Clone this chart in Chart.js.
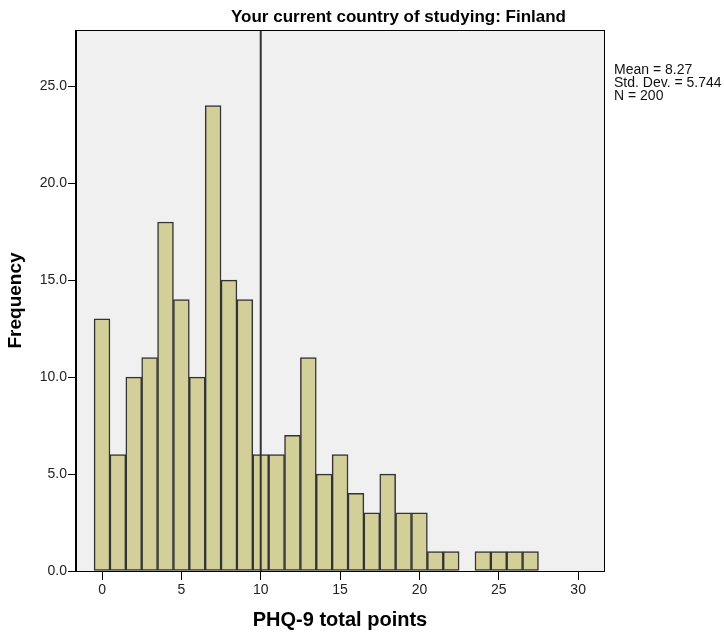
<!DOCTYPE html>
<html>
<head>
<meta charset="utf-8">
<script src="https://cdn.jsdelivr.net/npm/chart.js@4/dist/chart.umd.min.js"></script>
<style>
  html, body { margin: 0; padding: 0; background: #fff; }
  #wrap { width: 724px; height: 635px; }
</style>
</head>
<body>
<div id="wrap"><canvas id="c" width="724" height="635"></canvas></div>
<script>
// ---- data ----
const bins = [0,1,2,3,4,5,6,7,8,9,10,11,12,13,14,15,16,17,18,19,20,21,22,23,24,25,26,27];
const counts = [13,6,10,11,18,14,10,24,15,14,6,6,7,11,5,6,4,3,5,3,3,1,1,0,1,1,1,1];
const xTickValues = [0,5,10,15,20,25,30];
const yTickValues = [0,5,10,15,20,25];
const referenceLineX = [10, 10];
const referenceLineY = [0, 27.9];
const chartTitle = 'Your current country of studying: Finland';
const statsLines = ['Mean = 8.27', 'Std. Dev. = 5.744', 'N = 200'];
const xTitle = 'PHQ-9 total points';
const yTitle = 'Frequency';

const FONT = "'Liberation Sans', Arial, sans-serif";

const frame = {
  id: 'frame',
  beforeDraw(chart) {
    const {ctx, chartArea: a} = chart;
    ctx.save();
    ctx.fillStyle = '#fff';
    ctx.fillRect(0, 0, chart.width, chart.height);
    ctx.fillStyle = '#f0f0f0';
    ctx.fillRect(a.left, a.top, a.right - a.left, a.bottom - a.top);
    ctx.restore();
  },
  afterDraw(chart) {
    const {ctx, chartArea: a} = chart;
    ctx.save();
    ctx.strokeStyle = '#000';
    ctx.lineWidth = 1;
    ctx.strokeRect(a.left - 0.5, a.top + 0.5, a.right - a.left + 1, a.bottom - a.top);
    ctx.fillStyle = '#000';
    ctx.font = 'bold 17px ' + FONT;
    ctx.textAlign = 'center';
    ctx.textBaseline = 'alphabetic';
    ctx.fillText(chartTitle, 398.5, 22);
    ctx.font = '14px ' + FONT;
    ctx.textAlign = 'left';
    ctx.fillStyle = '#111';
    statsLines.forEach((t, i) => ctx.fillText(t, a.right + 10, 74 + i * 13));
    ctx.restore();
  }
};

new Chart(document.getElementById('c'), {
  data: {
    datasets: [
      {
        type: 'line',
        data: referenceLineX.map((x, i) => ({x: x, y: referenceLineY[i]})),
        borderColor: '#333',
        borderWidth: 2,
        pointRadius: 0,
        fill: false,
        order: 0
      },
      {
        type: 'bar',
        data: bins.map((b, i) => ({x: b, y: counts[i] || null})),
        backgroundColor: '#d3cf98',
        borderColor: '#333',
        borderWidth: 1.5,
        borderSkipped: false,
        barPercentage: 1,
        categoryPercentage: 1,
        order: 1
      }
    ]
  },
  options: {
    responsive: false,
    animation: false,
    events: [],
    layout: { padding: { top: 30, right: 120, left: 0, bottom: 0 } },
    plugins: { legend: { display: false }, title: { display: false }, tooltip: { enabled: false } },
    scales: {
      x: {
        type: 'linear',
        min: -1.64,
        max: 31.63,
        offset: false,
        afterFit(s) { s.height = 64; },
        afterBuildTicks(s) { s.ticks = xTickValues.map(v => ({value: v})); },
        ticks: { font: { family: FONT, size: 14 }, color: '#222', padding: 2, maxRotation: 0 },
        grid: { drawOnChartArea: false, tickLength: 9, color: '#000', offset: false },
        border: { display: true, color: '#000', width: 1 },
        title: { display: true, text: xTitle, color: '#000', font: { family: FONT, size: 20, weight: 'bold' }, padding: { top: 0, bottom: 3 } }
      },
      y: {
        type: 'linear',
        min: 0,
        max: 27.9,
        afterFit(s) { s.width = 76; },
        afterBuildTicks(s) { s.ticks = yTickValues.map(v => ({value: v})); },
        ticks: { font: { family: FONT, size: 14 }, color: '#222', padding: 1, callback: v => Number(v).toFixed(1) },
        grid: { drawOnChartArea: false, tickLength: 8, color: '#000' },
        border: { display: true, color: '#000', width: 1 },
        title: { display: true, text: yTitle, color: '#000', font: { family: FONT, size: 19, weight: 'bold' }, padding: { top: 4, bottom: 0 } }
      }
    }
  },
  plugins: [frame]
});
</script>
</body>
</html>
